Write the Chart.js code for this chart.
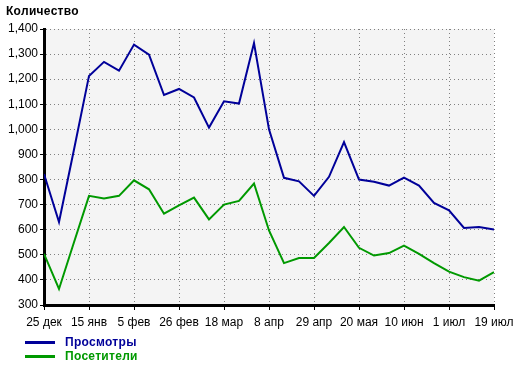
<!DOCTYPE html>
<html>
<head>
<meta charset="utf-8">
<script src="https://cdn.jsdelivr.net/npm/chart.js@4.4.1/dist/chart.umd.min.js"></script>
<style>
  body { margin: 0; background: #fff; font-family: "Liberation Sans", Arial, sans-serif; }
  #wrap { position: relative; width: 520px; height: 366px; }
  #title { position: absolute; left: 6px; top: 4px; font-weight: bold; font-size: 12px; color: #000; letter-spacing: 0.3px; }
  .leg { position: absolute; left: 25px; font-weight: bold; font-size: 12px; letter-spacing: 0.3px; }
  .leg span.ln { position: absolute; left: 0; top: 6px; width: 30px; height: 3px; }
  .leg span.tx { position: absolute; left: 40px; top: 0; white-space: nowrap; }
</style>
</head>
<body>
<div id="wrap">
  <canvas id="chart" width="520" height="366"></canvas>
  <div id="title">Количество</div>
  <div class="leg" style="top:335px;color:#000099"><span class="ln" style="background:#000099"></span><span class="tx">Просмотры</span></div>
  <div class="leg" style="top:349px;color:#009900"><span class="ln" style="background:#009900"></span><span class="tx">Посетители</span></div>
</div>
<script>
// недели (подписи оси X)
weeks = ['25 дек','1 янв','8 янв','15 янв','22 янв','29 янв','5 фев','12 фев','19 фев','26 фев',
         '4 мар','11 мар','18 мар','25 мар','1 апр','8 апр','15 апр','22 апр','29 апр','6 мая',
         '13 мая','20 мая','27 мая','3 июн','10 июн','17 июн','24 июн','1 июл','8 июл','15 июл','19 июл']
views = [822, 631, 920, 1213, 1269, 1234, 1338, 1298, 1137, 1161, 1127, 1007, 1112, 1103, 1344,
         1000, 807, 793, 735, 811, 949, 800, 791, 776, 808, 776, 707, 677, 607, 611, 601]
visitors = [504, 364, 550, 735, 725, 735, 797, 761, 664, 697, 728, 641, 700, 715, 784,
            597, 467, 487, 487, 547, 611, 528, 497, 507, 537, 504, 467, 433, 411, 397, 431]
seriesNames = ['Просмотры', 'Посетители']

// фон области графика
const plotBg = {
    id: 'plotBg',
    beforeDraw(chart) {
        const a = chart.chartArea, c = chart.ctx
        c.save()
        c.fillStyle = '#f4f4f4'
        c.fillRect(a.left, a.top, a.right - a.left, a.bottom - a.top)
        c.restore()
    }
}

const font = { family: '"Liberation Sans", Arial, sans-serif', size: 12 }

const config = {
    type: 'line',
    data: {
        datasets: [{
            label: seriesNames[0],
            data: views.map((v, i) => ({ x: i, y: v })),
            borderColor: '#000099',
            borderWidth: 2,
            pointRadius: 0,
            tension: 0
        }, {
            label: seriesNames[1],
            data: visitors.map((v, i) => ({ x: i, y: v })),
            borderColor: '#009900',
            borderWidth: 2,
            pointRadius: 0,
            tension: 0
        }]
    },
    options: {
        responsive: false,
        animation: false,
        layout: { padding: { left: 0, right: 26, top: 29, bottom: 36 } },
        plugins: { legend: { display: false }, tooltip: { enabled: false } },
        scales: {
            x: {
                type: 'linear',
                min: 0,
                max: 30,
                afterFit: s => { s.height = 25 },
                ticks: {
                    stepSize: 3,
                    color: '#000',
                    font: font,
                    padding: 5,
                    maxRotation: 0,
                    autoSkip: false,
                    callback: v => weeks[v]
                },
                grid: { color: '#808080', tickColor: '#000', tickLength: 5, tickBorderDash: [] },
                border: { color: '#000', width: 3, dash: [1, 3] }
            },
            y: {
                min: 300,
                max: 1400,
                afterFit: s => { s.width = 44 },
                ticks: {
                    stepSize: 100,
                    color: '#000',
                    font: font,
                    padding: 2,
                    callback: v => v.toLocaleString('en-US')
                },
                grid: { color: '#808080', tickColor: '#000', tickLength: 4, tickBorderDash: [] },
                border: { color: '#000', width: 3, dash: [1, 3] }
            }
        }
    },
    plugins: [plotBg]
}

window.onload = function() {
    var ctx = document.getElementById('chart').getContext('2d')
    window.myChart = new Chart(ctx, config)
}
</script>
</body>
</html>
